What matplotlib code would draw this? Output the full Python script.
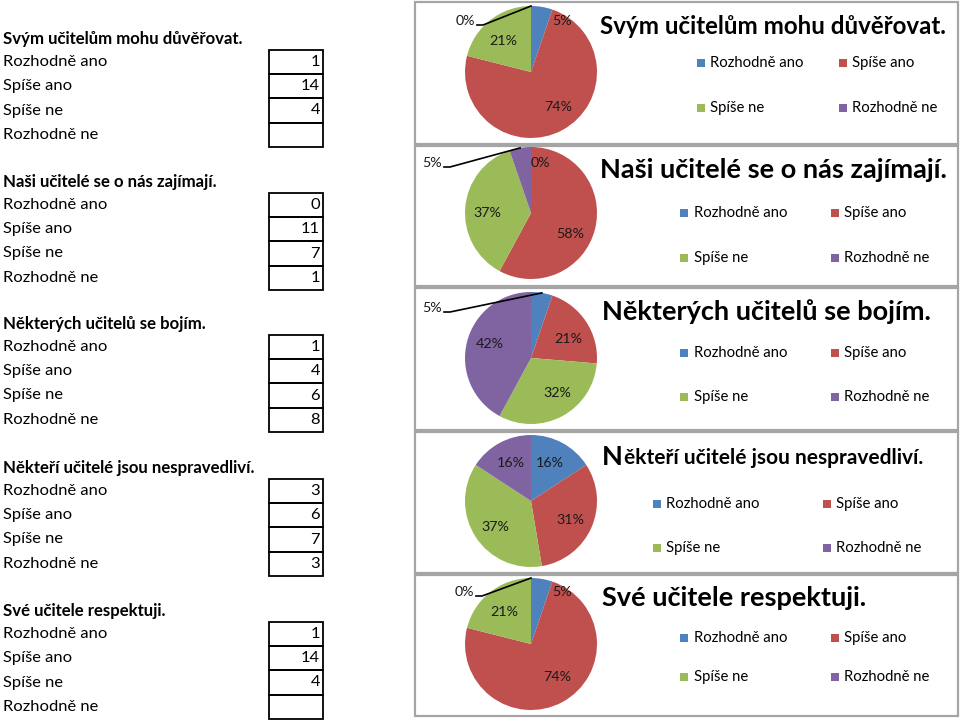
import matplotlib
matplotlib.use("Agg")
import matplotlib.pyplot as plt
from matplotlib.patches import Rectangle
import numpy as np

FONT = ["Lato", "DejaVu Sans"]
plt.rcParams['font.family'] = FONT

# ---------------- data ----------------
categories = ["Rozhodně ano", "Spíše ano", "Spíše ne", "Rozhodně ne"]
questions = ["Svým učitelům mohu důvěřovat.",
             "Naši učitelé se o nás zajímají.",
             "Některých učitelů se bojím.",
             "Někteří učitelé jsou nespravedliví.",
             "Své učitele respektuji."]
counts_q1 = [1, 14, 4, None]
counts_q2 = [0, 11, 7, 1]
counts_q3 = [1, 4, 6, 8]
counts_q4 = [3, 6, 7, 3]
counts_q5 = [1, 14, 4, None]
pct_q1 = ["5%", "74%", "21%", "0%"]
pct_q2 = ["0%", "58%", "37%", "5%"]
pct_q3 = ["5%", "21%", "32%", "42%"]
pct_q4 = ["16%", "31%", "37%", "16%"]
pct_q5 = ["5%", "74%", "21%", "0%"]
all_counts = [counts_q1, counts_q2, counts_q3, counts_q4, counts_q5]
all_pcts = [pct_q1, pct_q2, pct_q3, pct_q4, pct_q5]

# ---------------- style / layout ----------------
colors = ['#4F81BD', '#C0504D', '#9BBB59', '#8064A2']
W, H = 960, 721
box_tops = [50, 193, 335, 479, 622]
cell_h = 24.2
panel_y = [(2, 144), (146, 286), (288, 430), (432, 573), (575, 716)]
pie_cy = [72, 213, 358, 501, 644]
pie_cx, pie_r = 531, 66
title_y = [27, 170, 312, 457, 598]
title_x = [600, 600, 602, 602, 602]
title_w = [348, 352, None, None, None]   # titles that Excel shrank to fit
legend_cols = [(700.5, 843), (684, 835), (684, 835), (657, 827), (684, 835)]
legend_rows = [(63, 108), (213, 258), (353, 397), (504, 548), (638, 677)]
label_offsets = [
    [(31, -51), (27, 35), (-28, -31), (-66, -51)],
    [(9, -50), (39, 21), (-44, 0), (-99, -50)],
    [(-99, -50), (37, -19), (26, 35), (-41, -14)],
    [(19, -38), (39, 19), (-36, 26), (-20, -38)],
    [(31, -52), (26, 33), (-27, -32), (-67, -52)],
]
leader = [
    [False, False, False, True],
    [False, False, False, True],
    [True, False, False, False],
    [False, False, False, False],
    [False, False, False, True],
]

fig = plt.figure(figsize=(W / 100, H / 100), dpi=100)
fig.patch.set_facecolor('white')
bg = fig.add_axes([0, 0, 1, 1])
bg.set_xlim(0, W); bg.set_ylim(H, 0); bg.axis('off')
renderer = fig.canvas.get_renderer()


def text_w(s, size, weight='normal'):
    t = bg.text(0, 0, s, fontsize=size, fontweight=weight)
    w = t.get_window_extent(renderer).width
    t.remove()
    return w


def size_for(s, width, weight='normal'):
    return 10 * width / text_w(s, 10, weight)


fs_tab = size_for("Rozhodně ano", 104)
fs_tab_title = size_for(questions[0], 242, 'bold')
fs_title = size_for(questions[2], 330, 'bold')
fs_leg = size_for("Rozhodně ano", 94)
fs_pct = size_for("74%", 28)

# ---------------- left table ----------------
for i, q in enumerate(questions):
    top = box_tops[i]
    bg.text(3, top - 11, q, fontsize=fs_tab_title, fontweight='bold', ha='left', va='center')
    for j, cat in enumerate(categories):
        yc = top + (j + 0.5) * cell_h
        bg.text(3, yc, cat, fontsize=fs_tab, ha='left', va='center')
        bg.add_patch(Rectangle((269, top + j * cell_h), 54, cell_h, fill=False,
                               edgecolor='black', lw=1.3))
        v = all_counts[i][j]
        if v is not None:
            bg.text(320, yc, str(v), fontsize=fs_tab, ha='right', va='center')

# ---------------- panels, titles, legends ----------------
for i, q in enumerate(questions):
    y0, y1 = panel_y[i]
    bg.add_patch(Rectangle((415, y0), 543, y1 - y0, fill=False, edgecolor='#A5A5A5', lw=1.6))
    if i == 3:
        # Excel shrank this title except its first letter
        first, rest = q[0], q[1:]
        bg.text(title_x[i], title_y[i], first, fontsize=fs_title, fontweight='bold',
                ha='left', va='center')
        nw = text_w(first, fs_title, 'bold')
        fs_rest = size_for(rest, 923 - title_x[i] - nw - 1, 'bold')
        bg.text(title_x[i] + nw + 1, title_y[i] + 1.5, rest, fontsize=fs_rest,
                fontweight='bold', ha='left', va='center')
    else:
        fs = fs_title if title_w[i] is None else min(fs_title, size_for(q, title_w[i], 'bold'))
        bg.text(title_x[i], title_y[i], q, fontsize=fs, fontweight='bold', ha='left', va='center')
    for j, cat in enumerate(categories):
        mx = legend_cols[i][j % 2]
        my = legend_rows[i][j // 2]
        bg.add_patch(Rectangle((mx - 4, my - 4), 8, 8, facecolor=colors[j], edgecolor='none'))
        bg.text(mx + 9.5, my, cat, fontsize=fs_leg, ha='left', va='center')

# ---------------- pies ----------------
for i in range(5):
    cy = pie_cy[i]
    ax = fig.add_axes([(pie_cx - pie_r) / W, 1 - (cy + pie_r) / H, 2 * pie_r / W, 2 * pie_r / H])
    vals = [0 if v is None else v for v in all_counts[i]]
    ax.pie(vals, colors=colors, startangle=90, counterclock=False, radius=1,
           wedgeprops=dict(linewidth=0))
    ax.set_xlim(-1, 1); ax.set_ylim(-1, 1); ax.axis('off')

fg = fig.add_axes([0, 0, 1, 1])
fg.set_xlim(0, W); fg.set_ylim(H, 0); fg.axis('off'); fg.patch.set_alpha(0)
for i in range(5):
    cy = pie_cy[i]
    vals = np.array([0 if v is None else v for v in all_counts[i]], dtype=float)
    total = vals.sum()
    cum = np.concatenate([[0], np.cumsum(vals)])
    for j in range(4):
        dx, dy = label_offsets[i][j]
        lx, ly = pie_cx + dx, cy + dy
        fg.text(lx, ly, all_pcts[i][j], fontsize=fs_pct, ha='center', va='center', color='#1a1a1a')
        if leader[i][j]:
            mid = 2 * np.pi * (cum[j] + vals[j] / 2) / total
            px = pie_cx + pie_r * np.sin(mid)
            py = cy - pie_r * np.cos(mid)
            fg.plot([lx + 12, lx + 18, px], [ly + 4, ly + 4, py], color='black', lw=1.2)

fig.savefig("out.png", dpi=100, facecolor='white')
